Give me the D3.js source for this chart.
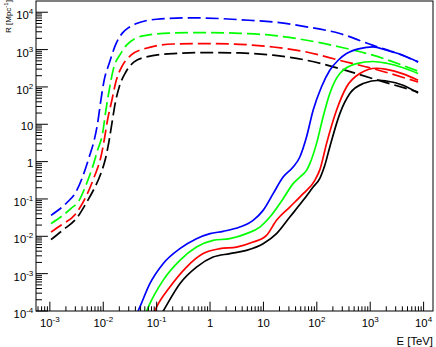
<!DOCTYPE html>
<html><head><meta charset="utf-8">
<script src="https://cdn.jsdelivr.net/npm/d3@7"></script>
<style>
body{margin:0;background:#fff}
svg{display:block}
text{font-family:"Liberation Sans",Arial,Helvetica,sans-serif;fill:#000}
</style>
</head><body>
<svg id="c" width="436" height="347"></svg>
<script>
// ---- axis tick labels (exponents of 10) ----
const xTickExponents = [-3, -2, -1, 0, 1, 2, 3, 4];
const yTickExponents = [-4, -3, -2, -1, 0, 1, 2, 3, 4];
const xTitle = "E [TeV]";
const yTitle = "R [Mpc";

// ---- series: [E (TeV), R (Mpc^-1)] ----
const dashedBlue = [[1.05e-3,0.0364],[2.14e-3,0.0828],[3.07e-3,0.153],[4.09e-3,0.386],[5.45e-3,1.33],[6.76e-3,3.72],[7.82e-3,10.4],[9.02e-3,43.9],[1.04e-2,151],[1.29e-2,422],[1.72e-2,1400],[2.3e-2,2800],[3.0e-2,3900],[4.07e-2,4900],[0.1,6500],[0.4,7080],[1.58,6760],[3.61,6310],[15.2,5500],[64.1,4070],[270,2690],[1130,1300],[2690,871],[7890,468]];
const dashedGreen = [[1.05e-3,0.0219],[2.47e-3,0.055],[3.54e-3,0.0918],[4.72e-3,0.232],[6.31e-3,0.716],[7.82e-3,2.01],[9.7e-3,5.62],[1.12e-2,23.7],[1.29e-2,81.3],[1.53e-2,282],[2.14e-2,794],[2.73e-2,1318],[3.98e-2,1995],[6.31e-2,2399],[0.204,2786],[0.859,2858],[3.61,2723],[15.0,2399],[64.1,1778],[270,1175],[1119,708],[7889,263]];
const dashedRed = [[1.05e-3,0.013],[1.61e-3,0.0197],[3.07e-3,0.0405],[4.72e-3,0.113],[6.76e-3,0.386],[9.02e-3,1.33],[1.04e-2,3.72],[1.2e-2,12.8],[1.45e-2,43.9],[1.72e-2,136],[2.3e-2,380],[3.31e-2,708],[5.83e-2,1047],[0.204,1413],[0.859,1445],[3.61,1380],[15.2,1175],[64.1,861],[270,513],[1132,309],[7889,135]];
const dashedBlack = [[1.05e-3,0.00813],[1.73e-3,0.0145],[3.3e-3,0.0328],[4.72e-3,0.075],[6.76e-3,0.189],[9.02e-3,0.478],[1.12e-2,1.33],[1.29e-2,3.72],[1.45e-2,10.4],[1.67e-2,35.8],[1.99e-2,99.5],[2.65e-2,251],[3.79e-2,466],[6.28e-2,631],[0.204,782],[0.859,832],[3.61,813],[15.2,708],[64.1,518],[270,309],[1132,166],[7889,73.3]];

const solidBlue = [[0.0347,4.27e-5],[0.0484,1.27e-4],[0.0746,5.4e-4],[0.132,1.85e-3],[0.272,4.67e-3],[0.558,8.65e-3],[1.0,0.0118],[1.76,0.0136],[3.61,0.0177],[6.41,0.0268],[9.86,0.0495],[15.2,0.139],[23.4,0.386],[36.0,0.716],[48.1,1.33],[64.1,4.56],[85.3,23.7],[122,99.5],[175,279],[251,518],[360,782],[638,1064],[1132,1175],[2018,957],[4130,705],[7889,466]];
const solidGreen = [[0.0511,4.17e-5],[0.0746,1.57e-4],[0.132,6.61e-4],[0.272,2.26e-3],[0.558,5.15e-3],[1.14,7.8e-3],[2.35,8.65e-3],[4.82,0.0118],[8.57,0.0177],[13.2,0.0328],[23.4,0.102],[36.0,0.258],[48.1,0.386],[64.1,0.585],[74.0,0.883],[98.6,3.03],[131,15.7],[175,66.4],[270,228],[553,422],[1132,479],[2018,430],[4130,326],[7889,228]];
const solidRed = [[0.0711,4.17e-5],[0.0995,1.27e-4],[0.177,4.38e-4],[0.363,1.5e-3],[0.743,3.44e-3],[1.53,4.67e-3],[3.13,5.15e-3],[6.41,7.01e-3],[11.4,0.0106],[17.6,0.0268],[31.2,0.0608],[55.5,0.139],[91.8,0.316],[115,0.63],[152,3.03],[234,23.7],[360,99.5],[638,228],[1312,316],[2018,295],[4130,224],[7889,151]];
const solidBlack = [[0.0923,4.17e-5],[0.132,9.82e-5],[0.272,5.4e-4],[0.558,1.5e-3],[1.14,2.78e-3],[2.35,3.44e-3],[4.82,4.21e-3],[9.86,6.35e-3],[17.6,0.0118],[31.2,0.0328],[55.5,0.0918],[85.3,0.209],[114,0.355],[141,0.794],[175,2.46],[270,19.3],[415,66.4],[736,123],[1514,151],[2018,144],[4130,111],[7889,68.9]];

const seriesList = [
  {data: dashedBlack, color: "#000000", dashed: true},
  {data: dashedRed, color: "#ff0000", dashed: true},
  {data: dashedGreen, color: "#00ff00", dashed: true},
  {data: dashedBlue, color: "#0000ff", dashed: true},
  {data: solidBlack, color: "#000000", dashed: false},
  {data: solidRed, color: "#ff0000", dashed: false},
  {data: solidGreen, color: "#00ff00", dashed: false},
  {data: solidBlue, color: "#0000ff", dashed: false}
];

// ---- layout ----
const W = 436, H = 347;
const L = 36, R = 433, T = 1, B = 311;
const x = d3.scaleLog().domain([5.5e-4, 1.5e4]).range([L, R]);
const y = d3.scaleLog().domain([1e-4, 2e4]).range([B, T]);

const svg = d3.select("#c");
svg.append("rect").attr("width", W).attr("height", H).attr("fill", "#fff");

svg.append("defs").append("clipPath").attr("id", "clip")
  .append("rect").attr("x", L).attr("y", T).attr("width", R - L).attr("height", B - T);

// curves
const line = d3.line().x(d => x(d[0])).y(d => y(d[1])).curve(d3.curveMonotoneX);
const g = svg.append("g").attr("clip-path", "url(#clip)");
seriesList.forEach(s => {
  g.append("path").attr("d", line(s.data)).attr("fill", "none")
    .attr("stroke", s.color).attr("stroke-width", 1.7)
    .attr("stroke-dasharray", s.dashed ? "13,5" : null)
    .attr("stroke-linejoin", "round");
});

// frame
svg.append("rect").attr("x", L).attr("y", T).attr("width", R - L).attr("height", B - T)
  .attr("fill", "none").attr("stroke", "#000").attr("stroke-width", 1);

// minor tick values
function minors(scale) {
  const [a, b] = scale.domain();
  const out = [];
  for (let n = -6; n <= 6; n++) for (let k = 2; k <= 9; k++) {
    const v = k * Math.pow(10, n);
    if (v > a * 1.0001 && v < b * 0.9999) out.push(v);
  }
  return out;
}
const tg = svg.append("g").attr("stroke", "#000").attr("stroke-width", 1);
xTickExponents.forEach(n => {
  const px = x(Math.pow(10, n));
  tg.append("line").attr("x1", px).attr("x2", px).attr("y1", B).attr("y2", B - 9.3);
});
minors(x).forEach(v => {
  const px = x(v);
  tg.append("line").attr("x1", px).attr("x2", px).attr("y1", B).attr("y2", B - 4.7);
});
yTickExponents.forEach(n => {
  const py = y(Math.pow(10, n));
  tg.append("line").attr("x1", L).attr("x2", L + 11.9).attr("y1", py).attr("y2", py);
});
minors(y).forEach(v => {
  const py = y(v);
  tg.append("line").attr("x1", L).attr("x2", L + 6).attr("y1", py).attr("y2", py);
});

// labels
const FS = 11.3, SFS = 8;
function addLabel(n, px, py, anchor) {
  const t = svg.append("text").attr("x", px).attr("y", py)
    .attr("text-anchor", anchor).attr("font-size", FS);
  if (n === 0) t.text("1");
  else if (n === 1) t.text("10");
  else {
    t.append("tspan").text("10");
    t.append("tspan").attr("font-size", SFS).attr("dy", -5).text(String(n));
  }
  return t;
}
xTickExponents.forEach(n => {
  addLabel(n, x(Math.pow(10, n)), 327, "middle");
});
yTickExponents.forEach(n => {
  const py = y(Math.pow(10, n));
  const plain = (n === 0 || n === 1);
  addLabel(n, 33.3, py + (plain ? 5.5 : 7), "end");
});

// axis titles
svg.append("text").attr("x", 433).attr("y", 345).attr("text-anchor", "end")
  .attr("font-size", FS).text(xTitle);
const yt = svg.append("text").attr("transform", "translate(10.5,33) rotate(-90)")
  .attr("text-anchor", "start").attr("font-size", 8);
yt.append("tspan").text(yTitle);
yt.append("tspan").attr("font-size", 6).attr("dy", -3).text("-1");
yt.append("tspan").attr("dy", 3).text("]");
</script>
</body></html>
